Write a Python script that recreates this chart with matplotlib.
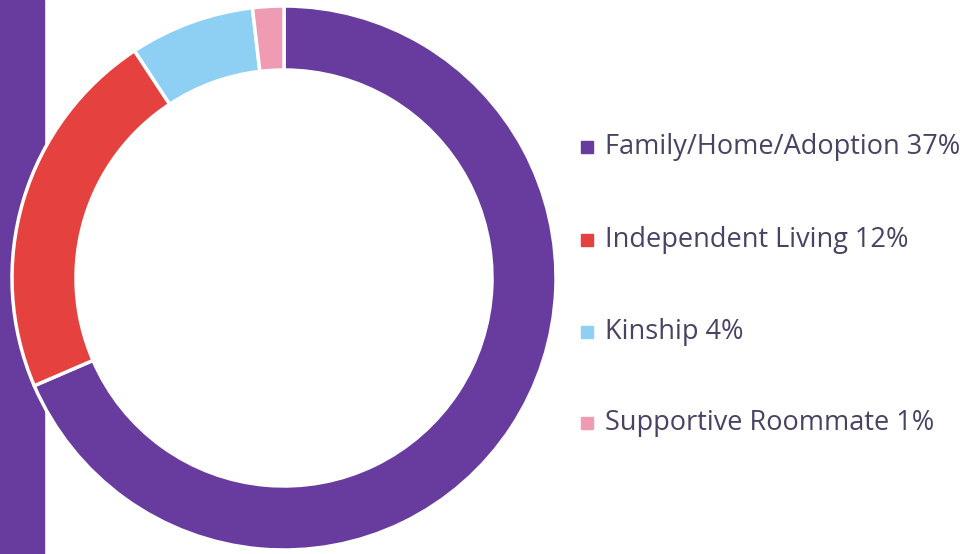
import matplotlib
matplotlib.use("Agg")
import matplotlib.pyplot as plt
from matplotlib.patches import Rectangle

categories = ["Family/Home/Adoption", "Independent Living", "Kinship", "Supportive Roommate"]
values = [37, 12, 4, 1]
colors = ["#673C9E", "#E5423F", "#8ED0F4", "#EE9BB3"]

W, H = 975, 554
fig = plt.figure(figsize=(W / 100, H / 100), dpi=100)
ax = fig.add_axes([0, 0, 1, 1])

# accent bar down the left edge
ax.add_patch(Rectangle((0, 0), 44, H, color="#673C9E", zorder=0))

# donut
radius = 272
ax.pie(values, colors=colors, startangle=90, counterclock=False,
       center=(284, 276), radius=radius, frame=True,
       wedgeprops=dict(width=64, edgecolor="white", linewidth=2.5))
ax.set_xlim(0, W)
ax.set_ylim(0, H)
ax.axis("off")

# legend
rows_y = [H - 147, H - 240, H - 332, H - 423]
for name, val, col, y in zip(categories, values, colors, rows_y):
    ax.add_patch(Rectangle((581, y - 6), 12, 12, color=col, zorder=3))
    ax.text(605, y, f"{name} {val}%", fontsize=19.5, family="Open Sans",
            color="#4A4264", va="center", ha="left")

fig.savefig("out.png", dpi=100)
